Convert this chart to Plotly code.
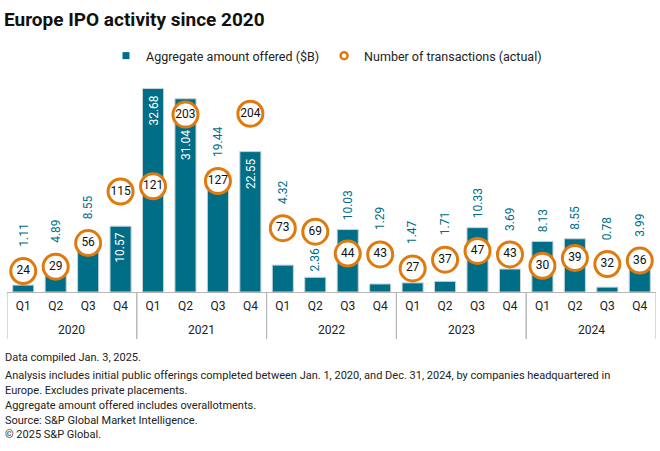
import plotly.graph_objects as go

years = ["2020"] * 4 + ["2021"] * 4 + ["2022"] * 4 + ["2023"] * 4 + ["2024"] * 4
quarters = ["Q1", "Q2", "Q3", "Q4"] * 5
amount = [1.11, 4.89, 8.55, 10.57, 32.68, 31.04, 19.44, 22.55, 4.32, 2.36,
          10.03, 1.29, 1.47, 1.71, 10.33, 3.69, 8.13, 8.55, 0.78, 3.99]
deals = [24, 29, 56, 115, 121, 203, 127, 204, 73, 69,
         44, 43, 27, 37, 47, 43, 30, 39, 32, 36]

# label placement style: 'a' = above bar/circle, 'b' = just above bar,
# 't' = inside at top, 'c' = inside below circle
label_mode = ["a", "a", "a", "t", "t", "c", "a", "t", "a", "b",
              "a", "a", "a", "a", "a", "a", "a", "a", "a", "a"]

cats = [f"{y} {q}" for y, q in zip(years, quarters)]

W, H = 660, 451
ML, MR, MT, MB = 7, 4, 80, 159
PH = H - MT - MB
PW = W - ML - MR
R1 = 34.05
R2 = 242.6
k1 = PH / R1  # px per unit on primary axis

TEAL = "#006E87"
ORANGE = "#E07A0E"
GRID = "#b5b5b5"
FONT = "Roboto"

fig = go.Figure()
fig.add_trace(go.Bar(
    x=cats, y=amount, name="Aggregate amount offered ($B)",
    marker=dict(color=TEAL, line=dict(color="#c8d3d7", width=1)),
    width=0.65, yaxis="y", showlegend=False,
))
fig.add_trace(go.Scatter(
    x=cats, y=deals, name="Number of transactions (actual)",
    mode="markers+text", text=[str(d) for d in deals], textposition="middle center",
    textfont=dict(family=FONT, size=12, color="#111111"),
    marker=dict(symbol="circle", size=25, color="white", line=dict(color=ORANGE, width=3)),
    yaxis="y2", cliponaxis=False, showlegend=False,
))
# legend entries
fig.add_trace(go.Scatter(
    x=[None], y=[None], mode="markers", name="Aggregate amount offered ($B)",
    marker=dict(symbol="square", size=7, color=TEAL), yaxis="y",
))
fig.add_trace(go.Scatter(
    x=[None], y=[None], mode="markers", name="Number of transactions (actual)",
    marker=dict(symbol="circle", size=7, color="white", line=dict(color=ORANGE, width=2.5)),
    yaxis="y2",
))

ann = []
for i, (v, c, m) in enumerate(zip(amount, deals, label_mode)):
    circ = c * R1 / R2
    if m == "a":
        y, ya, col = max(v + 7 / k1, circ + 22 / k1), "bottom", TEAL
    elif m == "b":
        y, ya, col = v + 4 / k1, "bottom", TEAL
    elif m == "t":
        y, ya, col = v - 5 / k1, "top", "white"
    else:
        y, ya, col = circ - 13 / k1, "top", "white"
    ann.append(dict(x=cats[i], y=y, xref="x", yref="y", text=f"{v:.2f}", textangle=-90,
                    showarrow=False, yanchor=ya, xanchor="center",
                    font=dict(family=FONT, size=12, color=col)))


def py(px):
    return (H - MB - px) / PH


def px_x(px):
    return (px - ML) / PW


# year group labels and dividers
shapes = []
groups = []
for i, yv in enumerate(years):
    if not groups or groups[-1][0] != yv:
        groups.append([yv, i, i])
    else:
        groups[-1][2] = i
for yv, a, b in groups:
    ann.append(dict(x=(a + b) / 2, y=py(330), xref="x", yref="paper", text=yv,
                    showarrow=False, xanchor="center", yanchor="middle",
                    font=dict(family=FONT, size=12, color="#222222")))
    for edge in (a - 0.5, b + 0.5):
        shapes.append(dict(type="line", xref="x", yref="paper", x0=edge, x1=edge,
                           y0=0, y1=py(339), line=dict(color=GRID, width=1)))

notes = [
    ("Data compiled Jan. 3, 2025.", 357),
    ("Analysis includes initial public offerings completed between Jan. 1, 2020, and Dec. 31, 2024, by companies headquartered in", 375),
    ("Europe. Excludes private placements.", 390),
    ("Aggregate amount offered includes overallotments.", 405),
    ("Source: S&P Global Market Intelligence.", 420),
    ("© 2025 S&P Global.", 434),
]
for t, p in notes:
    ann.append(dict(x=px_x(3), y=py(p), xref="paper", yref="paper", text=t,
                    showarrow=False, xanchor="left", yanchor="middle",
                    font=dict(family=FONT, size=11, color="#222222")))

fig.update_layout(
    width=W, height=H,
    margin=dict(l=ML, r=MR, t=MT, b=MB),
    paper_bgcolor="white", plot_bgcolor="white",
    title=dict(text="<b>Europe IPO activity since 2020</b>", x=4 / W, xanchor="left",
               y=1 - 19 / H, yanchor="middle",
               font=dict(family=FONT, size=19, color="#111111")),
    font=dict(family=FONT, size=12, color="#222222"),
    showlegend=True,
    legend=dict(orientation="h", x=px_x(106), xanchor="left", y=py(56), yanchor="middle",
                font=dict(family=FONT, size=12.5, color="#222222"), itemwidth=30,
                bgcolor="rgba(0,0,0,0)"),
    xaxis=dict(type="category", categoryorder="array", categoryarray=cats,
               tickvals=cats, ticktext=quarters, range=[-0.5, len(cats) - 0.5],
               showline=True, linecolor=GRID, linewidth=1,
               tickfont=dict(family=FONT, size=12, color="#222222"),
               showgrid=False, ticks="", ticklabelstandoff=3),
    yaxis=dict(range=[0, R1], visible=False, showgrid=False, fixedrange=True),
    yaxis2=dict(range=[0, R2], overlaying="y", visible=False, showgrid=False),
    annotations=ann,
    shapes=shapes,
)

fig.write_html("out.html", config={"displayModeBar": False},
               post_script="document.body.style.margin='0';document.body.style.padding='0';")
